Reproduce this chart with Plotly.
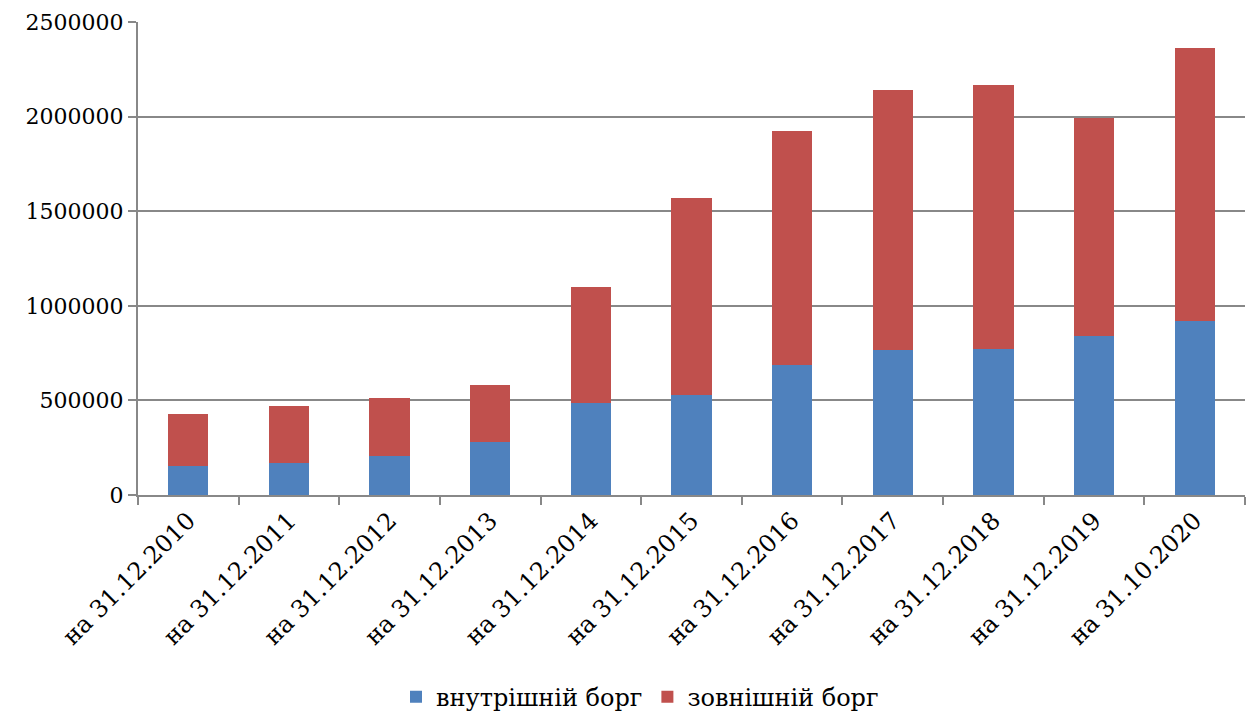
import plotly.graph_objects as go

# Дати звітності
dates = ["на 31.12.2010", "на 31.12.2011", "на 31.12.2012", "на 31.12.2013",
         "на 31.12.2014", "на 31.12.2015", "на 31.12.2016", "на 31.12.2017",
         "на 31.12.2018", "на 31.12.2019", "на 31.10.2020"]

# Внутрішній борг
domestic = [151500, 169000, 204000, 281000, 484000, 528000, 688000, 767000,
            772000, 839000, 918000]

# Загальний борг (внутрішній + зовнішній)
total = [429000, 473000, 512000, 581000, 1100000, 1568000, 1926000, 2138000,
         2165000, 1995000, 2365000]

external = [t - d for t, d in zip(total, domestic)]

font_family = "DejaVu Serif"
fsize = 24

fig = go.Figure()
fig.add_trace(go.Bar(x=dates, y=domestic, name="внутрішній борг",
                     marker=dict(color="#4F81BD", line=dict(width=0))))
fig.add_trace(go.Bar(x=dates, y=external, name="зовнішній борг",
                     marker=dict(color="#C0504D", line=dict(width=0))))

fig.update_layout(
    barmode="stack",
    bargap=0.6,
    width=1250, height=715,
    margin=dict(l=138, r=5, t=22, b=220),
    paper_bgcolor="white", plot_bgcolor="white",
    font=dict(family=font_family, size=fsize, color="black"),
    showlegend=True,
    legend=dict(orientation="h", xref="container", x=0.512, xanchor="center",
                yref="container", y=0.025, yanchor="middle",
                font=dict(size=fsize, family=font_family), itemwidth=30,
                traceorder="normal"),
)

fig.update_xaxes(
    type="category",
    tickangle=-45,
    tickson="boundaries",
    ticks="outside", ticklen=8, tickcolor="#888888", tickwidth=2,
    showline=True, linecolor="#888888", linewidth=2,
    showgrid=False,
    tickfont=dict(size=fsize, family=font_family),
)

fig.update_yaxes(
    range=[0, 2500000],
    tickvals=[0, 500000, 1000000, 1500000, 2000000, 2500000],
    ticktext=["0", "500000", "1000000", "1500000", "2000000", "2500000"],
    ticks="outside", ticklen=8, tickcolor="#888888", tickwidth=2,
    showline=True, linecolor="#888888", linewidth=2,
    showgrid=True, gridcolor="#888888", gridwidth=2,
    zeroline=False,
    tickfont=dict(size=22, family=font_family),
)

fig.write_html("out.html")
